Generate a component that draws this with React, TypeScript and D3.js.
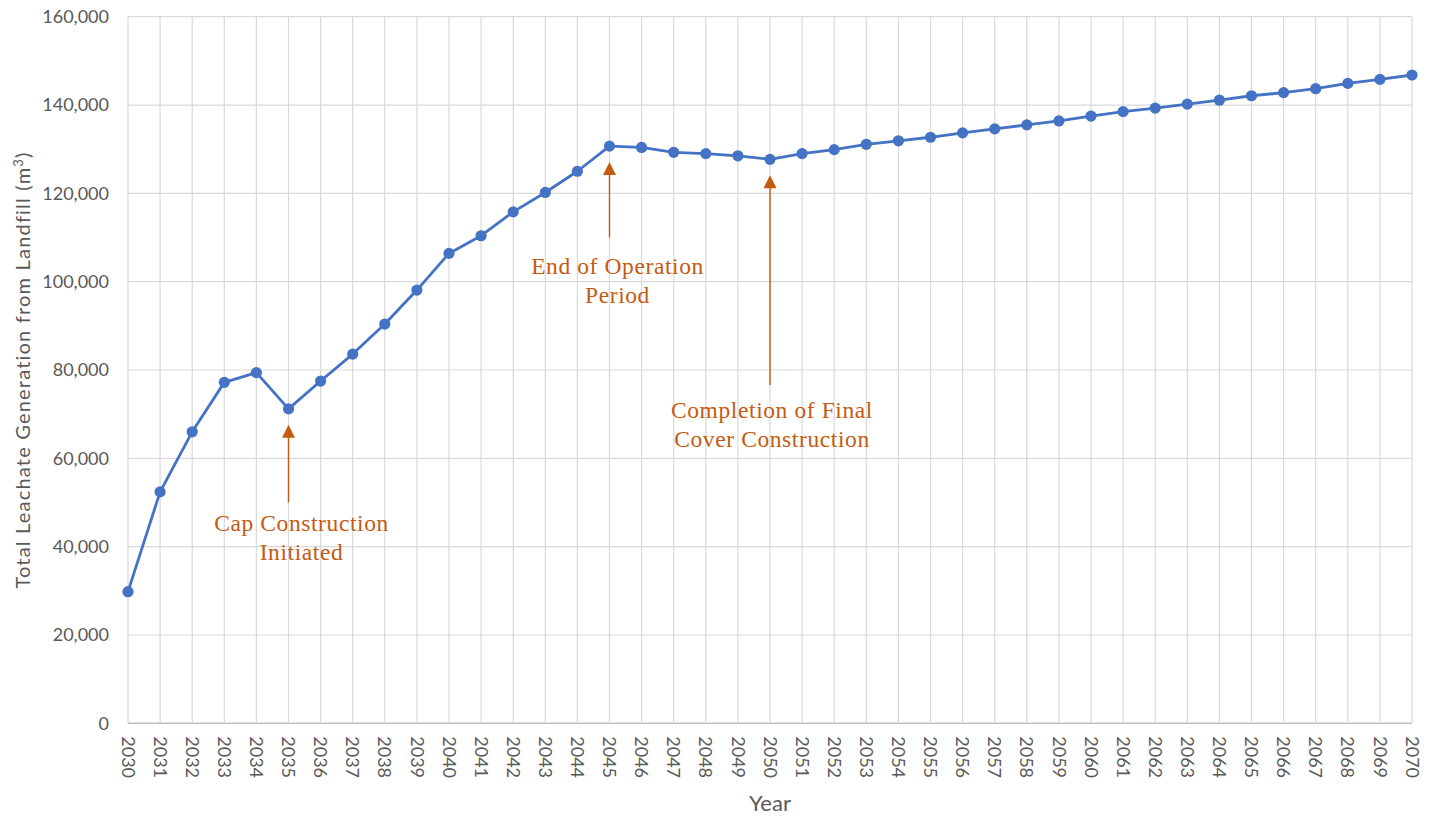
import * as d3 from 'd3';

const YEARS = [
  2030, 2031, 2032, 2033, 2034, 2035, 2036, 2037, 2038, 2039,
  2040, 2041, 2042, 2043, 2044, 2045, 2046, 2047, 2048, 2049,
  2050, 2051, 2052, 2053, 2054, 2055, 2056, 2057, 2058, 2059,
  2060, 2061, 2062, 2063, 2064, 2065, 2066, 2067, 2068, 2069, 2070,
];
const LEACHATE = [
  29800, 52400, 66000, 77200, 79400, 71200, 77500, 83600, 90400, 98100,
  106400, 110400, 115800, 120200, 125000, 130700, 130400, 129300, 129000, 128500,
  127700, 129000, 129900, 131100, 131900, 132700, 133700, 134600, 135500, 136400,
  137500, 138500, 139300, 140200, 141100, 142100, 142800, 143700, 144900, 145800, 146800,
];
const Y_TICKS = [0, 20000, 40000, 60000, 80000, 100000, 120000, 140000, 160000];

const NOTE_YEARS = [2035, 2045, 2050];
const NOTE_LINES = [
  ['Cap Construction', 'Initiated'],
  ['End of Operation', 'Period'],
  ['Completion of Final', 'Cover Construction'],
];
// value at which each arrow's tail ends
const NOTE_TAIL = [50000, 110000, 76600];

const W = 1436, H = 819;
const M = { top: 16.7, right: 24, bottom: 95.7, left: 128 };
const BLUE = '#4472C4';
const ORANGE = '#C55A11';
const GRID = '#d9d9d9';
const TXT = '#595959';
const SANS = 'Lato, "Open Sans", sans-serif';
const SERIF = '"Liberation Serif", "DejaVu Serif", serif';

// text layout per annotation: [dx of text centre, gap below tail to first baseline]
const NOTE_LAYOUT = [[13, 29], [8, 36], [2, 33]];

export default function App() {
  const x = d3.scaleLinear().domain([YEARS[0], YEARS[YEARS.length - 1]]).range([M.left, W - M.right]);
  const y = d3.scaleLinear().domain([0, 160000]).range([H - M.bottom, M.top]);
  const fmt = d3.format(',');
  const line = d3.line<number>().x((_, i) => x(YEARS[i])).y(v => y(v));
  const path = line(LEACHATE) ?? '';
  const y0 = y(0);

  return (
    <svg width={W} height={H} style={{ position: 'absolute', left: 0, top: 0, background: '#fff' }}>
      <rect width={W} height={H} fill="#fff" />
      {/* horizontal grid */}
      {Y_TICKS.map(t => (
        <line key={'h' + t} x1={M.left} x2={W - M.right} y1={y(t)} y2={y(t)}
          stroke={t === 0 ? '#bfbfbf' : GRID} strokeWidth={t === 0 ? 1.5 : 1.2} />
      ))}
      {/* vertical grid */}
      {YEARS.map(yr => (
        <line key={'v' + yr} x1={x(yr)} x2={x(yr)} y1={M.top} y2={y0} stroke={GRID} strokeWidth={1.2} />
      ))}
      {/* y tick labels */}
      {Y_TICKS.map(t => (
        <text key={'yl' + t} x={M.left - 19} y={y(t)} dy="0.35em" textAnchor="end"
          fontFamily={SANS} fontSize={18} fill={TXT}>{fmt(t)}</text>
      ))}
      {/* x tick labels, rotated */}
      {YEARS.map(yr => (
        <text key={'xl' + yr} transform={`translate(${x(yr)},${y0 + 13}) rotate(90)`}
          dy="0.35em" textAnchor="start" fontFamily={SANS} fontSize={18} fill={TXT}>{yr}</text>
      ))}
      {/* axis titles */}
      <text transform={`translate(30,${(M.top + y0) / 2}) rotate(-90)`} textAnchor="middle"
        fontFamily={SANS} fontSize={20} letterSpacing={1.2} fill={TXT}>
        Total Leachate Generation from Landfill (m<tspan dy="-7" fontSize={13}>3</tspan><tspan dy="7">)</tspan>
      </text>
      <text x={770} y={811} textAnchor="middle" fontFamily={SANS} fontSize={22} fill={TXT}>Year</text>

      {/* series */}
      <path d={path} fill="none" stroke={BLUE} strokeWidth={2.8} strokeLinejoin="round" />
      {LEACHATE.map((v, i) => (
        <circle key={'p' + i} cx={x(YEARS[i])} cy={y(v)} r={5.6} fill={BLUE} />
      ))}

      {/* annotations */}
      {NOTE_YEARS.map((yr, k) => {
        const cx = x(yr);
        const pv = LEACHATE[YEARS.indexOf(yr)];
        const tip = y(pv) + 16;
        const tail = y(NOTE_TAIL[k]);
        const [dx, gap] = NOTE_LAYOUT[k];
        return (
          <g key={'n' + yr}>
            <line x1={cx} x2={cx} y1={tail} y2={tip + 10} stroke={ORANGE} strokeWidth={1.4} />
            <path d={`M${cx},${tip} L${cx - 6.5},${tip + 13} L${cx + 6.5},${tip + 13} Z`} fill={ORANGE} />
            {NOTE_LINES[k].map((s, j) => (
              <text key={j} x={cx + dx} y={tail + gap + j * 29} textAnchor="middle"
                fontFamily={SERIF} fontSize={23.5} letterSpacing={0.6} fill={ORANGE}>{s}</text>
            ))}
          </g>
        );
      })}
    </svg>
  );
}
